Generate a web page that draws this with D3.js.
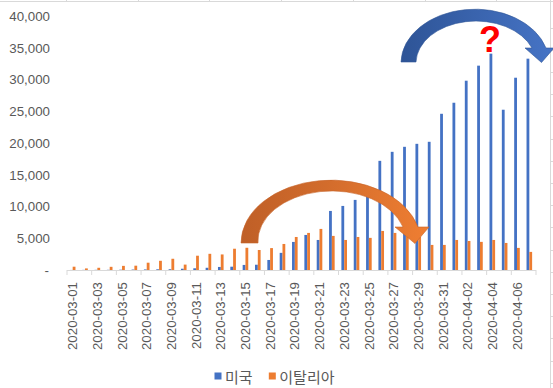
<!DOCTYPE html>
<html>
<head>
<meta charset="utf-8">
<script src="https://cdn.jsdelivr.net/npm/d3@7"></script>
<style>
  body { margin: 0; background: #fff; }
  svg { display: block; }
  .axis text { font-family: "Liberation Sans", Arial, sans-serif; font-size: 13.3px; fill: #595959; }
  .legend text { font-family: "Noto Sans CJK KR", sans-serif; font-size: 15px; fill: #595959; }
</style>
</head>
<body>
<div id="chart"></div>
<script>
// daily new cases
const dates = [
  '2020-03-01','2020-03-02','2020-03-03','2020-03-04','2020-03-05','2020-03-06','2020-03-07',
  '2020-03-08','2020-03-09','2020-03-10','2020-03-11','2020-03-12','2020-03-13','2020-03-14',
  '2020-03-15','2020-03-16','2020-03-17','2020-03-18','2020-03-19','2020-03-20','2020-03-21',
  '2020-03-22','2020-03-23','2020-03-24','2020-03-25','2020-03-26','2020-03-27','2020-03-28',
  '2020-03-29','2020-03-30','2020-03-31','2020-04-01','2020-04-02','2020-04-03','2020-04-04',
  '2020-04-05','2020-04-06','2020-04-07'
];
const usa = [
  10, 20, 25, 30, 50, 70, 90, 110, 120, 200, 270, 350, 480, 520,
  800, 830, 1580, 2700, 4420, 5520, 4730, 9300, 10090, 11040, 12900, 17190,
  18610, 19400, 19870, 20190, 24600, 26340, 29810, 32180, 34070, 25240, 30280, 33280
];
const italy = [
  520, 250, 350, 500, 650, 680, 1150, 1450, 1770, 850, 2250, 2550, 2450, 3350,
  3500, 3150, 3450, 4100, 5200, 5840, 6470, 5370, 4730, 5200, 5060, 6150,
  5840, 5300, 5200, 3950, 3950, 4730, 4570, 4430, 4730, 4260, 3480, 2850
];
const seriesNames = ['미국', '이탈리아'];
const colors = ['#4472C4', '#ED7D31'];
const yTicks = [0, 5000, 10000, 15000, 20000, 25000, 30000, 35000, 40000];

const W = 553, H = 388;
const plot = {left: 66.5, right: 535.5, top: 16, bottom: 270};

const svg = d3.select('#chart').append('svg')
  .attr('width', W).attr('height', H);

// excel cell grid peeking around the chart object
const grid = svg.append('g').attr('stroke', '#d9d9d9').attr('stroke-width', 1);
grid.append('line').attr('x1', 0).attr('x2', W).attr('y1', 1.5).attr('y2', 1.5);
grid.append('line').attr('x1', 550.5).attr('x2', 550.5).attr('y1', 0).attr('y2', H);
d3.range(66, W, 71.7).forEach(c => {
  grid.append('line').attr('x1', Math.round(c) + 0.5).attr('x2', Math.round(c) + 0.5).attr('y1', 0).attr('y2', 1.5);
});
d3.range(27.5, H, 22.2).forEach(r => {
  grid.append('line').attr('x1', 550.5).attr('x2', W).attr('y1', Math.round(r) + 0.5).attr('y2', Math.round(r) + 0.5);
});

const gap = 0.546;
const x0 = d3.scaleBand().domain(dates).range([plot.left, plot.right])
  .paddingInner(gap).paddingOuter(gap / 2);
const x1 = d3.scaleBand().domain([0, 1]).range([0, x0.bandwidth()]);
const y = d3.scaleLinear().domain([0, 40000]).range([plot.bottom, plot.top]);

// y labels
const yAxis = svg.append('g').attr('class', 'axis')
  .attr('transform', 'translate(50,0)')
  .call(d3.axisLeft(y).tickValues(yTicks).tickSize(0).tickPadding(0)
    .tickFormat(d => d === 0 ? '-' : d3.format(',')(d)));
yAxis.select('.domain').remove();
yAxis.selectAll('text').filter(d => d === 0).attr('dx', -1);

// bars
const rows = dates.map((d, i) => ({ date: d, vals: [usa[i], italy[i]] }));
const groups = svg.append('g').selectAll('g')
  .data(rows).enter().append('g')
  .attr('transform', d => 'translate(' + x0(d.date) + ',0)');
groups.selectAll('rect')
  .data(d => d.vals)
  .enter().append('rect')
  .attr('x', (v, i) => x1(i))
  .attr('width', x1.bandwidth())
  .attr('y', v => y(v))
  .attr('height', v => y(0) - y(v))
  .attr('fill', (v, i) => colors[i]);

// category axis: line + ticks every two days
const xi = d3.scaleLinear().domain([0, dates.length]).range([plot.left, plot.right]);
const tickAxis = svg.append('g').attr('class', 'axis')
  .attr('transform', 'translate(0,' + plot.bottom + ')')
  .call(d3.axisBottom(xi).tickValues(d3.range(0, dates.length + 1, 2))
    .tickSizeInner(5).tickSizeOuter(0).tickFormat(''));
tickAxis.selectAll('line, path').attr('stroke', '#d9d9d9');

// rotated date labels every two days
const xLab = d3.scaleBand().domain(dates).range([plot.left, plot.right]);
const labAxis = svg.append('g').attr('class', 'axis')
  .attr('transform', 'translate(0,' + plot.bottom + ')')
  .call(d3.axisBottom(xLab).tickValues(dates.filter((d, i) => i % 2 === 0)).tickSize(0));
labAxis.select('.domain').remove();
labAxis.selectAll('text')
  .attr('transform', 'rotate(-90)')
  .attr('text-anchor', 'end')
  .attr('x', -12)
  .attr('y', 0)
  .attr('dy', '0.35em');

// legend
const legend = svg.append('g').attr('class', 'legend');
const legendX = [214.5, 268.8];
seriesNames.forEach((name, i) => {
  legend.append('rect').attr('x', legendX[i]).attr('y', 372.5)
    .attr('width', 7).attr('height', 7).attr('fill', colors[i]);
  legend.append('text').attr('x', legendX[i] + 10.5).attr('y', 376.5)
    .attr('dominant-baseline', 'central').text(name);
});

// annotation arrows
const defs = svg.append('defs');
const og = defs.append('linearGradient').attr('id', 'og').attr('x1', 0).attr('x2', 1).attr('y1', 0).attr('y2', 0);
og.append('stop').attr('offset', '0%').attr('stop-color', '#BF5F27');
og.append('stop').attr('offset', '45%').attr('stop-color', '#D26C2C');
og.append('stop').attr('offset', '100%').attr('stop-color', '#EF7E32');
const bg = defs.append('linearGradient').attr('id', 'bg').attr('x1', 0).attr('x2', 1).attr('y1', 0).attr('y2', 0);
bg.append('stop').attr('offset', '0%').attr('stop-color', '#2E5496');
bg.append('stop').attr('offset', '100%').attr('stop-color', '#4674C6');

svg.append('path')
  .attr('d', 'M241,243 A90,63 0 0 1 418,227 L429,227 L415,243.5 L395,227 L403,227 A74,50 0 0 0 258,243 Z')
  .attr('fill', 'url(#og)').attr('stroke', '#C8652A').attr('stroke-width', 0.6);

svg.append('path')
  .attr('d', 'M401,62 A74,54 0 0 1 546,48 L554,48 L541.5,62.5 L525,48 L532,48 A60,42 0 0 0 416,62 Z')
  .attr('fill', 'url(#bg)').attr('stroke', '#2F5597').attr('stroke-width', 0.6);

svg.append('text')
  .attr('x', 490).attr('y', 52)
  .attr('text-anchor', 'middle')
  .style('font-family', '"Liberation Sans", Arial, sans-serif')
  .style('font-weight', 'bold').style('font-size', '36px')
  .attr('fill', '#FF0000')
  .text('?');
</script>
</body>
</html>
